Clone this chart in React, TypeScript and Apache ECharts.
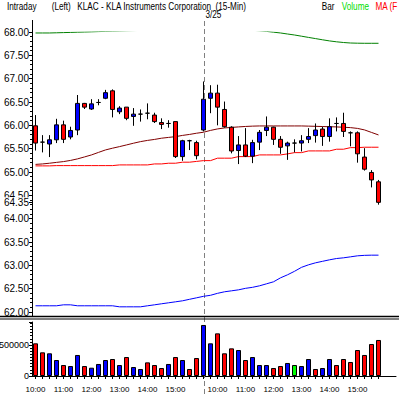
import React, { useEffect, useRef } from 'react';
import * as echarts from 'echarts';

const day1Times = ['10:00','10:15','10:30','10:45','11:00','11:15','11:30','11:45','12:00','12:15','12:30','12:45','13:00','13:15','13:30','13:45','14:00','14:15','14:30','14:45','15:00','15:15','15:30','15:45'];
const day2Times = ['9:30','9:45','10:00','10:15','10:30','10:45','11:00','11:15','11:30','11:45','12:00','12:15','12:30','12:45','13:00','13:15','13:30','13:45','14:00','14:15','14:30','14:45','15:00','15:15','15:30','15:45'];
const padSlots = ['pad1', 'pad2'];
const dayBreakLabel = '3/25';
const dayBreakIndex = day1Times.length;

const opens =  [65.99,65.64,65.60,65.69,66.01,65.75,65.90,66.47,66.35,66.49,66.58,66.74,66.29,66.39,66.19,66.24,66.26,66.22,66.06,66.04,66.08,65.33,65.67,65.63,
                65.90,66.58,66.69,66.34,65.96,65.46,65.58,65.34,65.64,65.89,65.96,65.70,65.56,65.62,65.62,65.70,65.78,65.92,65.76,66.04,66.04,65.84,65.84,65.32,64.99,64.79];
const closes = [65.62,65.64,65.69,66.01,65.70,65.89,66.47,66.39,66.46,66.49,66.70,66.34,66.37,66.15,66.24,66.24,66.26,66.08,66.02,66.04,65.33,65.67,65.67,65.35,
                66.56,66.69,66.39,65.97,65.45,65.58,65.34,65.63,65.85,65.96,65.70,65.53,65.62,65.62,65.67,65.76,65.90,65.76,65.97,66.04,65.87,65.84,65.39,65.06,64.83,64.35];
const lows =   [65.46,65.42,65.32,65.62,65.62,65.70,65.79,66.35,66.33,66.43,66.56,66.17,66.24,66.11,65.99,66.08,66.13,66.05,65.92,65.95,65.30,65.24,65.47,65.27,
                65.87,66.26,66.00,65.95,65.40,65.17,65.32,65.19,65.47,65.77,65.58,65.39,65.26,65.42,65.44,65.62,65.63,65.56,65.65,65.87,65.75,65.55,65.20,65.03,64.67,64.30];
const highs =  [66.22,65.79,65.79,66.14,66.10,65.97,66.65,66.48,66.56,66.56,66.76,66.77,66.41,66.39,66.37,66.34,66.47,66.27,66.15,66.11,66.08,65.69,65.69,65.67,
                66.94,66.86,66.87,66.51,65.98,65.77,65.94,65.69,65.90,66.19,65.97,65.77,65.65,65.70,65.79,65.94,66.04,65.97,66.15,66.17,66.27,65.87,65.87,65.51,65.04,64.83];

const volumes = [527000,382000,366000,258000,177000,161000,339000,161000,134000,194000,258000,274000,177000,306000,145000,113000,220000,177000,129000,194000,306000,258000,113000,290000,
                 823000,527000,688000,366000,446000,419000,258000,306000,177000,177000,129000,161000,210000,177000,161000,274000,113000,129000,274000,177000,274000,226000,419000,339000,516000,581000];
// u = up (blue), d = down (red), n = unchanged (green)
const volumeDir = ['d','d','u','u','d','u','u','d','u','u','u','d','u','d','u','u','d','d','d','u','d','u','d','d',
                   'u','u','d','d','d','u','d','u','u','u','d','d','u','n','u','u','d','u','u','d','d','d','d','d','d','d'];

const upperBand = [67.979,67.979,67.979,67.983,67.987,67.991,67.996,68.0,68.004,68.009,68.013,68.017,68.021,68.026,68.03,68.034,68.039,68.043,68.047,68.054,68.056,68.056,68.054,68.034,
                   68.051,68.054,68.054,68.054,68.051,68.047,68.043,68.036,68.026,68.013,67.996,67.979,67.957,67.936,67.91,67.884,67.859,67.833,67.809,67.79,67.775,67.764,67.76,67.758,67.758,67.758];
const lowerBand = [62.133,62.133,62.133,62.133,62.154,62.154,62.133,62.133,62.133,62.133,62.133,62.133,62.111,62.111,62.111,62.111,62.133,62.154,62.176,62.197,62.218,62.24,62.272,62.304,
                   62.336,62.358,62.4,62.433,62.454,62.475,62.507,62.529,62.561,62.604,62.647,62.732,62.797,62.872,62.957,63.011,63.054,63.086,63.118,63.146,63.161,63.182,63.204,63.214,63.218,63.218];
const maSlow = [65.131,65.131,65.131,65.137,65.137,65.137,65.137,65.137,65.137,65.137,65.137,65.137,65.152,65.152,65.152,65.152,65.152,65.173,65.173,65.188,65.188,65.21,65.21,65.227,
                65.244,65.244,65.296,65.296,65.296,65.33,65.33,65.33,65.366,65.366,65.366,65.366,65.388,65.415,65.415,65.452,65.452,65.452,65.452,65.488,65.488,65.522,65.522,65.531,65.531,65.531];
const maFast = [65.163,65.173,65.188,65.206,65.223,65.248,65.281,65.323,65.366,65.42,65.473,65.51,65.544,65.58,65.617,65.651,65.677,65.698,65.724,65.741,65.758,65.784,65.805,65.831,
                65.852,65.891,65.923,65.944,65.955,65.966,65.976,65.983,65.987,65.987,65.987,65.987,65.987,65.987,65.987,65.983,65.979,65.974,65.97,65.966,65.959,65.951,65.934,65.902,65.848,65.794];

const lastPrice = 64.35;
const priceMin = 62;
const priceMax = 68;
const priceStep = 0.5;
const volMax = 871000;
const volStep = 500000;

const categories = [
  ...day1Times.map((t) => 'd1 ' + t),
  ...day2Times.map((t) => 'd2 ' + t),
  ...padSlots,
];
const nData = opens.length;

const FONT = 'Liberation Sans, Arial, sans-serif';
const dirColor: Record<string, string> = { u: '#0000ff', d: '#ff0000', n: '#00ff00' };

export default function App() {
  const ref = useRef<HTMLDivElement>(null);
  useEffect(() => {
    document.body.style.margin = '0';
    const chart = echarts.init(ref.current!, null, { renderer: 'svg' });
    const candleData = opens.map((o, i) => [o, closes[i], lows[i], highs[i]]);
    const volData = volumes.map((v, i) => ({ value: v, itemStyle: { color: dirColor[volumeDir[i]] } }));
    const lineSeries = (data: number[], color: string) => ({
      type: 'line', xAxisIndex: 0, yAxisIndex: 0, data, showSymbol: false, symbol: 'none',
      lineStyle: { color, width: 1 }, z: 1, silent: true,
    });
    chart.setOption({
      animation: false,
      backgroundColor: '#ffffff',
      grid: [
        { left: 32, top: 32, width: 364, height: 280, containLabel: false, outerBoundsMode: 'none' },
        { left: 32, top: 322, width: 364, height: 54, containLabel: false, outerBoundsMode: 'none' },
      ],
      xAxis: [
        { type: 'category', gridIndex: 0, data: categories, boundaryGap: true,
          axisLine: { show: false }, axisTick: { show: false }, axisLabel: { show: false }, splitLine: { show: false } },
        { type: 'category', gridIndex: 1, data: categories, boundaryGap: true,
          axisLine: { show: true, lineStyle: { color: '#000', width: 1 } },
          axisTick: { show: true, alignWithLabel: true, length: 3, interval: (idx: number) => idx < nData, lineStyle: { color: '#000' } },
          axisLabel: {
            show: true, fontSize: 8, fontFamily: FONT, color: '#000', margin: 9,
            interval: (idx: number, val: string) => idx < nData && val.endsWith(':00'),
            formatter: (val: string) => val.split(' ')[1] || '',
          },
          splitLine: { show: false } },
      ],
      yAxis: [
        { type: 'value', gridIndex: 0, position: 'left', min: priceMin, max: priceMax, interval: priceStep,
          axisLine: { show: true, lineStyle: { color: '#000', width: 1 } },
          axisTick: { show: true, length: 3, lineStyle: { color: '#000' } },
          minorTick: { show: true, splitNumber: 5, length: 2, lineStyle: { color: '#000' } },
          splitLine: { show: false }, minorSplitLine: { show: false },
          axisLabel: { fontSize: 10, fontFamily: FONT, color: '#000', margin: 3, formatter: (v: number) => v.toFixed(2) } },
        { type: 'value', gridIndex: 0, position: 'left', offset: 0, min: priceMin, max: priceMax, z: 5,
          axisLine: { show: false },
          axisTick: { show: true, length: 3, customValues: [lastPrice], lineStyle: { color: '#000' } },
          splitLine: { show: false },
          axisLabel: { fontSize: 10, fontFamily: FONT, color: '#000', margin: 3, customValues: [lastPrice],
            backgroundColor: '#ffffff', padding: [0, 0, 0, 1],
            formatter: (v: number) => v.toFixed(2) } },
        { type: 'value', gridIndex: 1, position: 'left', min: 0, max: volMax, interval: volStep,
          axisLine: { show: true, lineStyle: { color: '#000', width: 1 } },
          axisTick: { show: true, length: 3, lineStyle: { color: '#000' } },
          minorTick: { show: true, splitNumber: 10, length: 2, lineStyle: { color: '#000' } },
          splitLine: { show: false }, minorSplitLine: { show: false },
          axisLabel: { fontSize: 9, fontFamily: FONT, color: '#000', margin: 3, showMaxLabel: false, formatter: (v: number) => String(v) } },
      ],
      series: [
        lineSeries(upperBand, '#008000'),
        lineSeries(lowerBand, '#0000ff'),
        lineSeries(maSlow, '#ff0000'),
        lineSeries(maFast, '#800000'),
        { type: 'candlestick', xAxisIndex: 0, yAxisIndex: 0, data: candleData, barWidth: 5, z: 3,
          itemStyle: { color: '#0000ff', color0: '#ff0000', borderColor: '#000', borderColor0: '#000', borderColorDoji: '#000', borderWidth: 1 } },
        { type: 'bar', xAxisIndex: 1, yAxisIndex: 2, data: volData, barWidth: 5, z: 3,
          itemStyle: { borderColor: '#000', borderWidth: 1 } },
      ],
    });
    const xBreak = chart.convertToPixel({ xAxisIndex: 0 }, dayBreakIndex) as number;
    const axisX = 32.5;
    const txt = (text: string, x: number, y: number, fill: string) => ({
      type: 'text', x, y, scaleX: 0.82, z: 20,
      style: { text, fill, font: `10px ${FONT}`, textAlign: 'left', textVerticalAlign: 'middle' },
    });
    chart.setOption({
      graphic: [
        txt('Intraday', 7, 6.5, '#000'),
        txt('(Left)', 51.7, 6.5, '#000'),
        txt('KLAC - KLA Instruments Corporation  (15-Min)', 77.3, 6.5, '#000'),
        txt('Bar', 321.7, 6.5, '#000'),
        txt('Volume', 341.7, 6.5, '#00dd00'),
        txt('MA (F', 375.5, 6.5, '#ff0000'),
        txt(dayBreakLabel, Math.round(xBreak) + 1.5, 15, '#000'),
        { type: 'line', z: 1, shape: { x1: Math.round(xBreak) + 0.5, y1: 21, x2: Math.round(xBreak) + 0.5, y2: 397 },
          style: { stroke: '#808080', lineWidth: 1, lineDash: [5, 3] } },
        { type: 'line', z: 20, shape: { x1: axisX, y1: 20, x2: axisX, y2: 32 }, style: { stroke: '#000', lineWidth: 1 } },
        { type: 'line', z: 20, shape: { x1: axisX, y1: 312, x2: axisX, y2: 316 }, style: { stroke: '#000', lineWidth: 1 } },
        { type: 'line', z: 20, shape: { x1: 0, y1: 316.5, x2: 399, y2: 316.5 }, style: { stroke: '#000', lineWidth: 1.5 } },
        { type: 'line', z: 20, shape: { x1: 0, y1: 319, x2: 399, y2: 319 }, style: { stroke: '#000', lineWidth: 1 } },
      ],
    });
    return () => chart.dispose();
  }, []);
  return <div ref={ref} style={{ position: 'absolute', left: 0, top: 0, width: 399, height: 397, background: '#fff' }} />;
}
